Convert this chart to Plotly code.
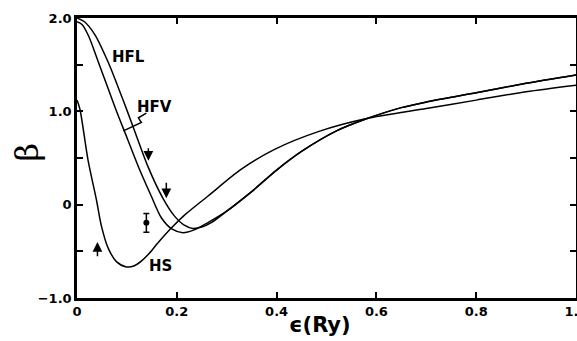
import plotly.graph_objects as go

# HFL curve
hfl_x = [0.0, 0.015, 0.036, 0.063, 0.083, 0.103, 0.125, 0.142, 0.172, 0.195, 0.215, 0.232, 0.25, 0.27, 0.30, 0.35, 0.40, 0.45, 0.52, 0.58, 0.65, 0.70, 0.80, 0.90, 1.0]
hfl_y = [2.0, 1.96, 1.82, 1.52, 1.25, 0.97, 0.65, 0.41, 0.07, -0.12, -0.22, -0.255, -0.24, -0.19, -0.07, 0.14, 0.37, 0.57, 0.79, 0.92, 1.04, 1.10, 1.20, 1.30, 1.39]

# HFV curve
hfv_x = [0.0, 0.01, 0.023, 0.042, 0.062, 0.08, 0.10, 0.122, 0.149, 0.169, 0.19, 0.212, 0.235, 0.26, 0.30, 0.35, 0.40, 0.45, 0.52, 0.58, 0.65, 0.70, 0.80, 0.90, 1.0]
hfv_y = [1.96, 1.93, 1.81, 1.54, 1.25, 0.99, 0.72, 0.42, 0.09, -0.14, -0.26, -0.30, -0.27, -0.20, -0.07, 0.14, 0.37, 0.57, 0.79, 0.92, 1.04, 1.10, 1.20, 1.30, 1.39]

# HS curve
hs_x = [0.0, 0.006, 0.022, 0.039, 0.049, 0.062, 0.079, 0.099, 0.115, 0.13, 0.145, 0.162, 0.189, 0.216, 0.262, 0.328, 0.395, 0.485, 0.578, 0.70, 0.80, 0.90, 1.0]
hs_y = [1.12, 1.02, 0.48, 0.05, -0.23, -0.46, -0.61, -0.667, -0.655, -0.60, -0.52, -0.41, -0.25, -0.11, 0.09, 0.375, 0.59, 0.785, 0.92, 1.03, 1.12, 1.21, 1.28]

# experimental point with error bar
exp_x = [0.139]
exp_y = [-0.195]
exp_err = [0.10]

# arrows: (x, tail y, head y)
arrow_x = [0.143, 0.179, 0.041]
arrow_tail = [0.62, 0.25, -0.57]
arrow_head = [0.47, 0.07, -0.40]

# HFV leader squiggle
lead_x = [0.139, 0.123, 0.129, 0.093]
lead_y = [0.98, 0.93, 0.88, 0.79]

# curve labels
lab_text = ["HFL", "HFV", "HS"]
lab_x = [0.104, 0.156, 0.168]
lab_y = [1.58, 1.05, -0.66]

x_ticks = [0, 0.2, 0.4, 0.6, 0.8, 1.0]
x_ticktext = ["0", "0.2", "0.4", "0.6", "0.8", "1.0"]
y_ticks = [-1.0, -0.5, 0, 0.5, 1.0, 1.5, 2.0]
y_ticktext = ["\u22121.0", "", "0", "", "1.0", "", "2.0"]

line_style = dict(color="black", width=1.5, shape="spline", smoothing=0.8)

fig = go.Figure()
fig.add_trace(go.Scatter(x=hfl_x, y=hfl_y, mode="lines", line=line_style, showlegend=False))
fig.add_trace(go.Scatter(x=hfv_x, y=hfv_y, mode="lines", line=line_style, showlegend=False))
fig.add_trace(go.Scatter(x=hs_x, y=hs_y, mode="lines", line=line_style, showlegend=False))
fig.add_trace(go.Scatter(x=lead_x, y=lead_y, mode="lines",
                         line=dict(color="black", width=1.5), showlegend=False))
fig.add_trace(go.Scatter(x=exp_x, y=exp_y, mode="markers",
                         marker=dict(color="black", size=6),
                         error_y=dict(type="data", array=exp_err, color="black",
                                      thickness=1.5, width=3),
                         showlegend=False))

for xa, yt, yh in zip(arrow_x, arrow_tail, arrow_head):
    fig.add_annotation(x=xa, y=yh, ax=xa, ay=yt, xref="x", yref="y",
                       axref="x", ayref="y", showarrow=True, arrowhead=2,
                       arrowsize=1.3, arrowwidth=1.5, arrowcolor="black", text="")

for t, xx, yy in zip(lab_text, lab_x, lab_y):
    fig.add_annotation(x=xx, y=yy, text=t, showarrow=False,
                       font=dict(family="DejaVu Sans", size=15, color="black", weight="bold"),
                       xref="x", yref="y")

fig.add_annotation(x=0.487, y=-0.045, xref="paper", yref="paper",
                   xanchor="center", yanchor="top",
                   text="\u03f5(Ry)", showarrow=False,
                   font=dict(family="DejaVu Sans", size=21, color="black", weight="bold"))
fig.add_annotation(x=-0.1, y=0.52, xref="paper", yref="paper",
                   xanchor="center", yanchor="middle",
                   text="\u03b2", showarrow=False, textangle=-90,
                   font=dict(family="DejaVu Serif", size=32, color="black"))

axis_common = dict(showgrid=False, zeroline=False, showline=True, linecolor="black",
                   linewidth=2.5, mirror="ticks", ticks="inside", ticklen=6,
                   tickwidth=1.5, tickcolor="black", automargin=False,
                   ticklabeloverflow="allow",
                   tickfont=dict(family="DejaVu Sans", size=13, color="black", weight="bold"))

fig.update_xaxes(range=[0, 1.0], tickvals=x_ticks, ticktext=x_ticktext, **axis_common)
fig.update_yaxes(range=[-1.0, 2.0], tickvals=y_ticks, ticktext=y_ticktext, **axis_common)

fig.update_layout(width=577, height=341, margin=dict(l=77, r=1, t=18, b=43),
                  plot_bgcolor="white", paper_bgcolor="white",
                  font=dict(family="DejaVu Sans", color="black"))

fig.write_html("out.html", config={"displayModeBar": False},
               post_script="document.body.style.margin='0';document.body.style.overflow='hidden';")
